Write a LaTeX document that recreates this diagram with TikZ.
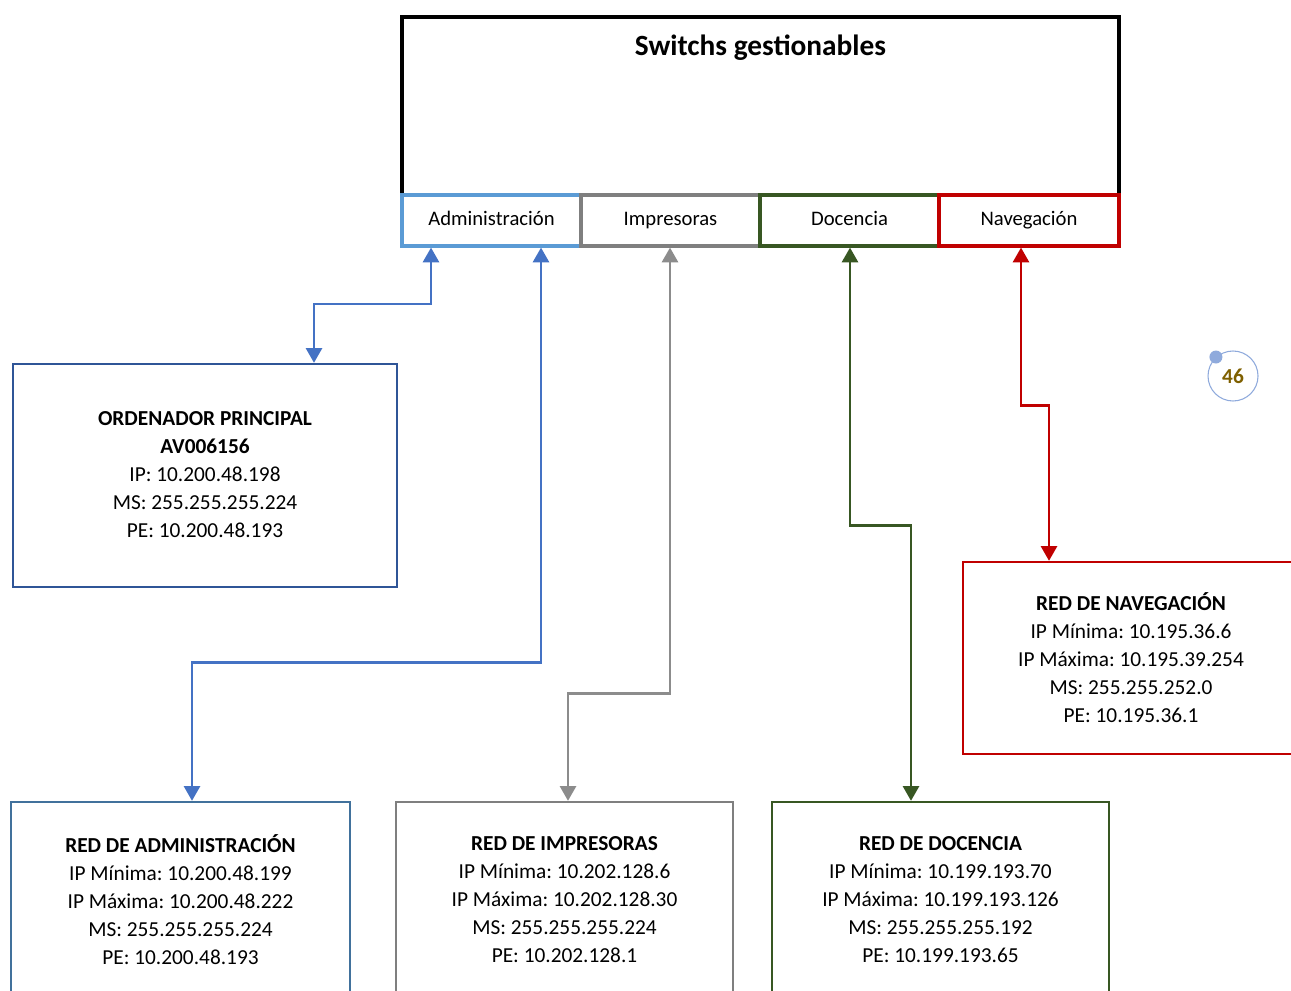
\documentclass[tikz,border=0pt]{standalone}
\usepackage{fontspec}
\setmainfont{Carlito}
\frenchspacing
\usetikzlibrary{arrows.meta,calc}
\definecolor{cBlueArr}{HTML}{4472C4}
\definecolor{cBlueLt}{HTML}{5B9BD5}
\definecolor{cBlueDk}{HTML}{2F5597}
\definecolor{cBlueSt}{HTML}{41719C}
\definecolor{cGray}{HTML}{7F7F7F}
\definecolor{cGrayArr}{HTML}{8C8C8C}
\definecolor{cGreen}{HTML}{385723}
\definecolor{cRed}{HTML}{C00000}
\definecolor{cPage}{HTML}{8FAADC}
\definecolor{cGold}{HTML}{7F6000}
\tikzset{
  subbox/.style={draw, line width=2.4pt, fill=white, minimum width=179*0.75pt, minimum height=51*0.75pt, inner sep=0pt, text height=11pt, text depth=3pt, font=\fontsize{15.5}{18}\selectfont},
  bigbox/.style={draw, line width=1.8pt, inner sep=0pt},
  info/.style={align=center, font=\fontsize{16}{21}\selectfont, inner sep=0pt},
  arr/.style={line width=1.9pt, {Triangle[width=12pt,length=11pt]}-{Triangle[width=12pt,length=11pt]}},
}
\begin{document}
\begin{tikzpicture}[x=0.75pt,y=-0.75pt]
\useasboundingbox (0,0) rectangle (1291,991);
\clip (0,0) rectangle (1291,991);
% main switch box
\node[draw, line width=2.4pt, minimum width=717*0.75pt, minimum height=229*0.75pt, inner sep=0pt] (sw) at (760.5,131.5) {};
\node[font=\fontsize{22}{26}\selectfont\bfseries] (title) at (760.5,48) {Switchs gestionables};
% sub boxes
\node[subbox, draw=cBlueLt] (adm) at (491.5,220.5) {Administración};
\node[subbox, draw=cGray] (imp) at (670.5,220.5) {Impresoras};
\node[subbox, draw=cGreen] (doc) at (849.5,220.5) {Docencia};
\node[subbox, draw=cRed, minimum width=180*0.75pt] (nav) at (1029,220.5) {Navegación};
% ordenador
\node[bigbox, draw=cBlueDk, minimum width=384*0.75pt, minimum height=223*0.75pt] (ord) at (205,475.5) {};
\node[info] (ordt) at (205,475) {\textbf{ORDENADOR PRINCIPAL}\\\textbf{AV006156}\\IP: 10.200.48.198\\MS: 255.255.255.224\\PE: 10.200.48.193};
% red admin
\node[bigbox, draw=cBlueSt, minimum width=339*0.75pt, minimum height=238*0.75pt] (radm) at (180.5,921) {};
\node[info] (radmt) at (180.5,900) {\textbf{RED DE ADMINISTRACIÓN}\\IP Mínima: 10.200.48.199\\IP Máxima: 10.200.48.222\\MS: 255.255.255.224\\PE: 10.200.48.193};
% red impresoras
\node[bigbox, draw=cGray, minimum width=337*0.75pt, minimum height=238*0.75pt] (rimp) at (564.5,921) {};
\node[info] (rimpt) at (564.5,900) {\textbf{RED DE IMPRESORAS}\\IP Mínima: 10.202.128.6\\IP Máxima: 10.202.128.30\\MS: 255.255.255.224\\PE: 10.202.128.1};
% red docencia
\node[bigbox, draw=cGreen, minimum width=337*0.75pt, minimum height=238*0.75pt] (rdoc) at (940.5,921) {};
\node[info] (rdoct) at (940.5,900) {\textbf{RED DE DOCENCIA}\\IP Mínima: 10.199.193.70\\IP Máxima: 10.199.193.126\\MS: 255.255.255.192\\PE: 10.199.193.65};
% red navegacion
\node[bigbox, draw=cRed, minimum width=357*0.75pt, minimum height=192*0.75pt] (rnav) at (1141.5,658) {};
\node[info] (rnavt) at (1131,658) {\textbf{RED DE NAVEGACIÓN}\\IP Mínima: 10.195.36.6\\IP Máxima: 10.195.39.254\\MS: 255.255.252.0\\PE: 10.195.36.1};
% x positions
\coordinate (x314) at (314,0);
\coordinate (x431) at (431,0);
\coordinate (x541) at (541,0);
\coordinate (x192) at (192,0);
\coordinate (x670) at (670,0);
\coordinate (x568) at (568,0);
\coordinate (x850) at (850,0);
\coordinate (x911) at (911,0);
\coordinate (x1021) at (1021,0);
\coordinate (x1049) at (1049,0);
% connectors
\draw[arr, cBlueArr] (ord.north -| x314) -- ++(0,-59) -| (adm.south -| x431);
\draw[arr, cBlueArr] (adm.south -| x541) -- ++(0,415) -| (radm.north -| x192);
\draw[arr, cGrayArr] (imp.south -| x670) -- ++(0,446) -| (rimp.north -| x568);
\draw[arr, cGreen] (doc.south -| x850) -- ++(0,278) -| (rdoc.north -| x911);
\draw[arr, cRed] (nav.south -| x1021) -- ++(0,158) -| (rnav.north -| x1049);
% page number
\node[circle, draw=cPage, line width=0.8pt, minimum size=50*0.75pt, inner sep=0pt, text=cGold, font=\fontsize{16}{18}\selectfont\bfseries] (pg) at (1233,376) {46};
\fill[cPage] (pg.132) circle[radius=6.5];
\end{tikzpicture}
\end{document}
